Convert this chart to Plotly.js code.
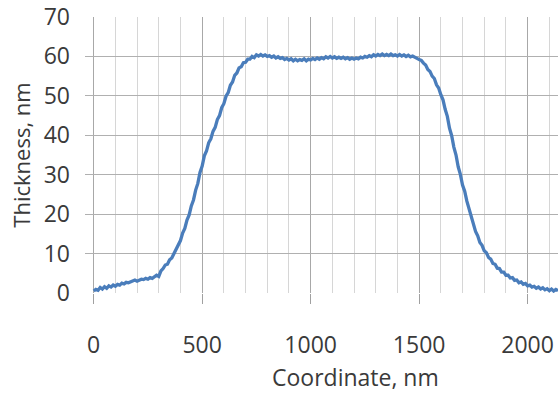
<!DOCTYPE html>
<html>
<head>
<meta charset="utf-8">
<script src="https://cdn.plot.ly/plotly-3.0.1.min.js"></script>
<style>html,body{margin:0;padding:0;background:#fff;}#chart{width:558px;height:394px;}</style>
</head>
<body>
<div id="chart"></div>
<script>
// Coordinate along the profile, nm
const coordinate = [
0,10,20,30,40,50,60,70,80,90,100,110,120,130,140,150,160,170,180,190,200,210,220,230,240,250,260,270,280,290,300,
310,320,330,340,350,360,370,380,390,400,410,420,430,440,450,460,470,480,490,500,510,520,530,540,550,560,570,580,590,600,
610,620,630,640,650,660,670,680,690,700,710,720,730,740,750,760,770,780,790,
800,810,820,830,840,850,860,870,880,890,900,910,920,930,940,950,960,970,980,990,1000,1010,1020,1030,1040,1050,1060,1070,1080,1090,
1100,1110,1120,1130,1140,1150,1160,1170,1180,1190,1200,1210,1220,1230,1240,1250,1260,1270,1280,1290,1300,1310,1320,1330,1340,1350,
1360,1370,1380,1390,1400,1410,1420,1430,1440,1450,1460,1470,1480,1490,
1500,1510,1520,1530,1540,1550,1560,1570,1580,1590,1600,1610,1620,1630,1640,1650,1660,1670,1680,1690,1700,1710,1720,1730,1740,1750,
1760,1770,1780,1790,1800,1810,1820,1830,1840,1850,1860,1870,1880,1890,1900,1910,1920,1930,1940,1950,1960,1970,1980,1990,2000,
2010,2020,2030,2040,2050,2060,2070,2080,2090,2100,2110,2120,2130,2140
];
// Film thickness, nm
const thickness = [
0.5,0.9,0.7,1.4,1.0,1.6,1.2,1.8,1.5,2.0,1.7,2.2,2.0,2.5,2.3,2.7,2.6,2.8,2.9,3.3,3.0,3.2,3.5,3.4,3.7,3.5,3.9,3.7,4.1,4.5,4.2,
5.6,6.2,7.1,7.3,8.4,8.9,10.1,10.8,12.4,13.3,15.2,16.4,18.5,19.8,22.1,23.6,26.1,27.8,30.6,32.2,34.8,36.0,38.1,39.1,41.0,42.0,44.0,45.0,47.0,48.0,
49.9,50.8,52.7,53.5,55.2,55.8,57.1,57.4,58.4,58.5,59.3,59.3,60.0,59.7,60.4,60.1,60.5,60.1,60.4,
60.0,60.2,59.8,60.1,59.6,59.9,59.5,59.7,59.2,59.5,59.1,59.4,58.9,59.3,58.9,59.2,59.0,59.4,58.9,59.3,59.1,59.5,59.2,59.6,59.3,59.7,59.4,59.9,59.6,60.0,
59.6,59.9,59.5,59.8,59.5,59.8,59.4,59.7,59.3,59.6,59.3,59.6,59.4,59.8,59.6,60.0,59.8,60.2,59.9,60.4,60.1,60.5,60.2,60.6,60.2,60.5,
60.2,60.6,60.2,60.4,60.1,60.5,60.1,60.4,60.0,60.3,59.9,60.1,59.7,59.5,
59.2,59.0,58.3,57.8,56.7,56.2,55.0,54.4,52.8,52.0,50.3,49.0,46.6,44.8,41.8,39.9,37.0,35.0,32.0,30.1,27.4,25.8,23.3,21.5,19.0,17.7,
15.6,14.5,12.8,12.1,10.7,10.2,9.0,8.6,7.5,7.3,6.3,6.2,5.3,5.3,4.5,4.5,3.8,3.9,3.2,3.3,2.6,2.8,2.2,2.4,1.8,
2.0,1.5,1.7,1.2,1.5,1.0,1.3,0.8,1.1,0.6,1.0,0.5,0.9,0.6
];
const xTicks = [0, 500, 1000, 1500, 2000];
const yTicks = [0, 10, 20, 30, 40, 50, 60, 70];

const FONT = '"Open Sans", "Liberation Sans", sans-serif';

const trace = {
  x: coordinate,
  y: thickness,
  type: 'scatter',
  mode: 'lines',
  line: {color: '#4a7dbb', width: 3.3},
  hoverinfo: 'x+y'
};

const layout = {
  width: 558,
  height: 394,
  margin: {l: 85, r: 0, t: 17, b: 101},
  paper_bgcolor: '#ffffff',
  plot_bgcolor: '#ffffff',
  showlegend: false,
  font: {family: FONT, color: '#3a3a3a', size: 22},
  xaxis: {
    range: [-40, 2140],
    tickmode: 'array',
    tickvals: xTicks,
    ticktext: xTicks.map(String),
    ticks: 'outside',
    ticklen: 10,
    tickwidth: 1,
    tickcolor: '#a0a0a0',
    ticklabelstandoff: 21,
    tickfont: {family: FONT, size: 23, color: '#3a3a3a'},
    showgrid: true,
    gridcolor: '#a8a8a8',
    gridwidth: 1,
    minor: {dtick: 100, tick0: 0, showgrid: true, gridcolor: '#d6d6d6', gridwidth: 1, ticks: ''},
    showline: false,
    zeroline: false,
    fixedrange: true
  },
  yaxis: {
    range: [0, 70],
    tickmode: 'array',
    tickvals: yTicks,
    ticktext: yTicks.map(String),
    ticks: '',
    ticklabelstandoff: 14,
    tickfont: {family: FONT, size: 23, color: '#3a3a3a'},
    showgrid: true,
    gridcolor: '#b0b0b0',
    gridwidth: 1,
    zeroline: false,
    showline: false,
    title: {text: 'Thickness, nm', font: {family: FONT, size: 22, color: '#3a3a3a'}, standoff: 6},
    fixedrange: true
  },
  annotations: [{
    text: 'Coordinate, nm',
    xref: 'paper', yref: 'paper',
    x: (355 - 85) / 473, y: -(377 - 293) / 276,
    xanchor: 'center', yanchor: 'middle',
    borderpad: 0,
    showarrow: false,
    font: {family: FONT, size: 23, color: '#3a3a3a'}
  }]
};

Plotly.newPlot('chart', [trace], layout, {staticPlot: true, displayModeBar: false});
</script>
</body>
</html>
